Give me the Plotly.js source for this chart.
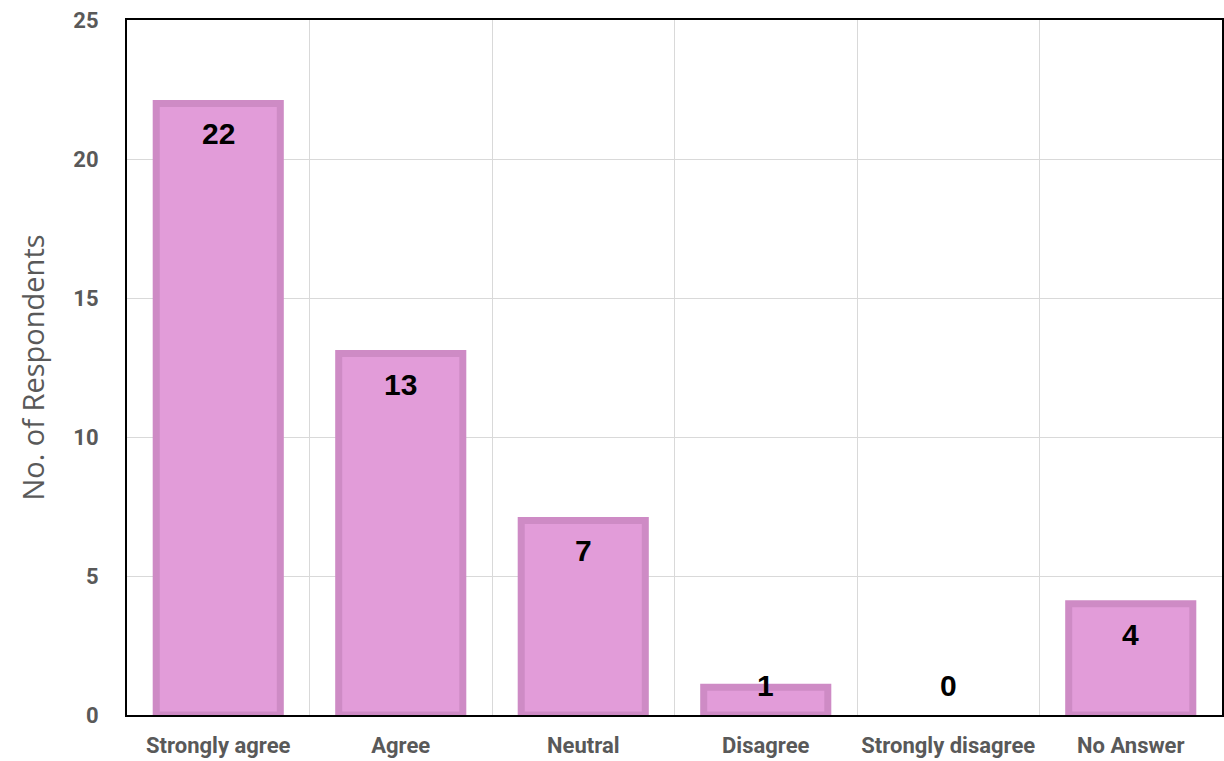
<!DOCTYPE html>
<html><head><meta charset="utf-8">
<script src="https://cdn.plot.ly/plotly-3.0.1.min.js"></script>
<style>html,body{margin:0;padding:0;background:#fff}#chart{width:1224px;height:761px}</style>
</head><body><div id="chart"></div>
<script>
const categories = ["Strongly agree","Agree","Neutral","Disagree","Strongly disagree","No Answer"];
const respondents = [22,13,7,1,0,4];
const yTickValues = [0,5,10,15,20,25];

const trace = {
  type: 'bar',
  x: categories,
  y: respondents,
  width: 0.68,
  marker: {color: '#E29CD9', line: {color: '#CE8BC5', width: respondents.map(v => v > 0 ? 7 : 0)}},
  hoverinfo: 'x+y'
};

const annotations = categories.map((c, i) => ({
  x: c, y: Math.max(respondents[i] - 1.1, 1.05),
  xref: 'x', yref: 'y', text: String(respondents[i]), showarrow: false,
  font: {family: '"Liberation Sans", Arial, sans-serif', size: 30, color: '#000', weight: 'bold'}
}));

const layout = {
  width: 1224, height: 761,
  margin: {l: 127, r: 2, t: 20, b: 46},
  paper_bgcolor: '#fff', plot_bgcolor: '#fff',
  showlegend: false,
  xaxis: {
    type: 'category', tickson: 'boundaries', ticklen: 0,
    showgrid: true, gridcolor: '#d9d9d9', gridwidth: 1,
    showline: true, linecolor: '#000', linewidth: 2, mirror: true,
    tickfont: {family: 'Roboto, Arial, sans-serif', size: 22, color: '#595959', weight: 'bold'},
    ticklabelstandoff: 10
  },
  yaxis: {
    range: [0, 25], tickvals: yTickValues, ticks: '',
    showgrid: true, gridcolor: '#d9d9d9', gridwidth: 1,
    zeroline: false,
    showline: true, linecolor: '#000', linewidth: 2, mirror: true,
    tickfont: {family: 'Roboto, Arial, sans-serif', size: 22, color: '#595959', weight: 'bold'},
    ticklabelstandoff: 22,
    title: {text: 'No. of Respondents', font: {family: '"Open Sans", sans-serif', size: 29, color: '#595959'}, standoff: 20}
  },
  annotations: annotations
};

Plotly.newPlot('chart', [trace], layout, {displayModeBar: false, staticPlot: true});
</script>
</body></html>
